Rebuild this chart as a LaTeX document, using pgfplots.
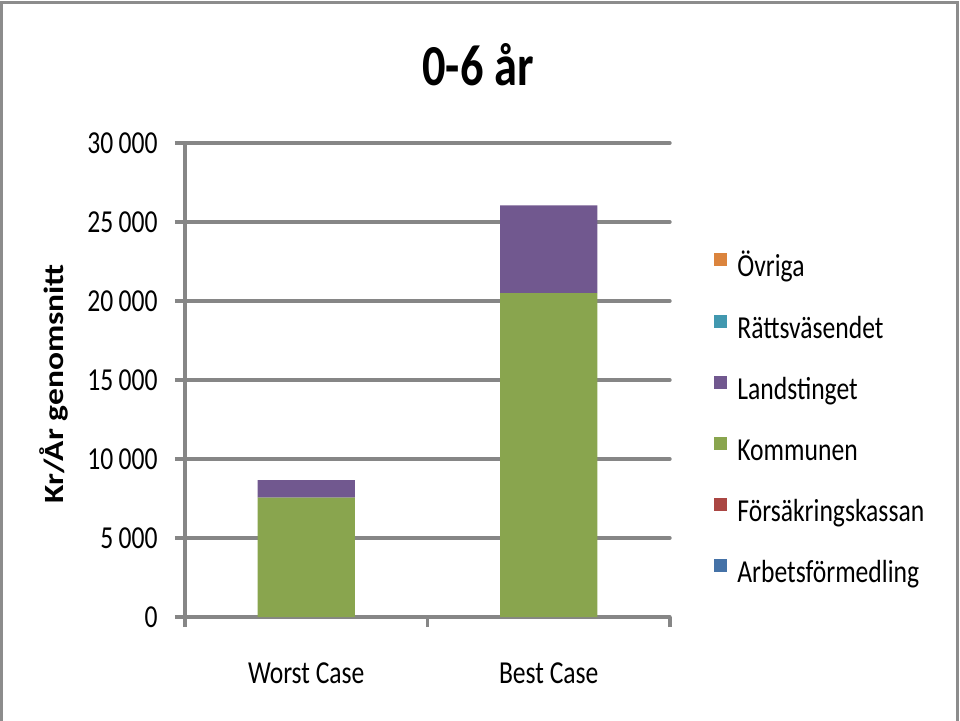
\documentclass[border=0pt]{standalone}
\usepackage{pgfplots}
\pgfplotsset{compat=1.18}
\usepackage{fontspec}
\usepackage{graphicx}
\setmainfont{Carlito}[FakeStretch=0.8]
\newfontfamily\labfont{Carlito}
\definecolor{blueA}{HTML}{4572A7}
\definecolor{redA}{HTML}{AA4643}
\definecolor{greenA}{HTML}{89A54E}
\definecolor{purpleA}{HTML}{71588F}
\definecolor{tealA}{HTML}{4198AF}
\definecolor{orangeA}{HTML}{DB843D}
\definecolor{gridgray}{HTML}{868686}
\definecolor{bordergray}{HTML}{8C8C8C}
\begin{document}
\begin{tikzpicture}
\useasboundingbox (0,0) rectangle (480pt,360pt);
\draw[color=bordergray, line width=1.5pt] (0.75pt,-10pt) rectangle (478.5pt,359pt);
\node[anchor=base, font=\fontsize{29}{34}\selectfont\bfseries] at (239pt,317.5pt) {0-6 år};
\node[rotate=90] at (27pt,168pt) {\scalebox{1}[0.83]{\labfont\fontsize{16.75}{20}\selectfont\bfseries Kr/År genomsnitt}};
\begin{axis}[
  at={(92.5pt,51.5pt)}, anchor=south west,
  scale only axis, width=242.5pt, height=237pt,
  ybar stacked, bar width=48.5pt,
  xmin=-0.5, xmax=1.5, ymin=0, ymax=30000,
  enlargelimits=false,
  axis x line*=bottom, axis y line*=left,
  axis line style={draw=gridgray, line width=1.7pt, -},
  ymajorgrids, grid style={draw=gridgray, line width=1.7pt, line cap=round},
  ytick={0,5000,10000,15000,20000,25000,30000},
  scaled y ticks=false,
  xtick={-0.5,0.5,1.5}, xticklabels={,,},
  extra x ticks={0,1}, extra x tick labels={Worst Case,Best Case},
  extra x tick style={major tick length=0pt},
  tick align=outside, major tick length=5pt,
  tick style={draw=gridgray, line width=1.7pt},
  tick label style={font=\fontsize{16}{19}\selectfont},
  /pgf/number format/assume math mode=true,
  /pgf/number format/1000 sep={\,},
  yticklabel style={anchor=east, inner sep=0pt, xshift=-8.5pt},
  xticklabel style={anchor=base, inner sep=0pt, yshift=-33pt},
  reverse legend,
  legend cell align=left,
  legend image code/.code={\fill[#1,draw=none] (0pt,1.8pt) rectangle (6.5pt,8.3pt);},
  legend style={at={(1.0907,0.768)}, anchor=north west, draw=none, fill=none,
    inner sep=0pt, row sep=14.8pt, column sep=5pt,
    nodes={inner sep=0pt, text height=11pt, text depth=4pt},
    font=\fontsize{16}{19}\selectfont},
]
\addplot[fill=blueA, draw=none] coordinates {(0,0) (1,0)};
\addlegendentry{Arbetsförmedling}
\addplot[fill=redA, draw=none] coordinates {(0,0) (1,0)};
\addlegendentry{Försäkringskassan}
\addplot[fill=greenA, draw=none] coordinates {(0,7550) (1,20500)};
\addlegendentry{Kommunen}
\addplot[fill=purpleA, draw=none] coordinates {(0,1120) (1,5560)};
\addlegendentry{Landstinget}
\addplot[fill=tealA, draw=none] coordinates {(0,0) (1,0)};
\addlegendentry{Rättsväsendet}
\addplot[fill=orangeA, draw=none] coordinates {(0,0) (1,0)};
\addlegendentry{Övriga}
\end{axis}
\end{tikzpicture}
\end{document}
